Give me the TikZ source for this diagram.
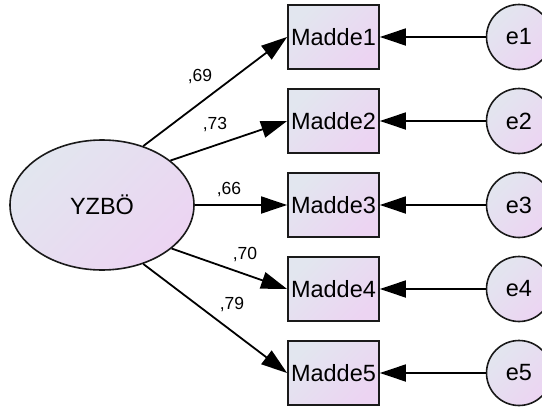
\documentclass[tikz,border=0pt]{standalone}
\usepackage{fontspec}
\setmainfont{Liberation Sans}
\usetikzlibrary{shapes.geometric,arrows.meta}
\definecolor{gA}{HTML}{E2E6EF}
\definecolor{gB}{HTML}{ECD4F2}
\definecolor{edge}{HTML}{1A1A1A}
\tikzset{
  grad/.style={shading=axis, left color=gA, right color=gB, shading angle=45},
  latent/.style={ellipse, draw=edge, line width=1.6pt, grad, minimum width=184pt, minimum height=130pt, inner sep=0pt, font=\fontsize{23.5}{25}\selectfont},
  obs/.style={rectangle, draw=edge, line width=1.8pt, grad, minimum width=91pt, minimum height=64pt, inner sep=0pt, font=\fontsize{23.5}{25}\selectfont},
  err/.style={circle, draw=edge, line width=1.6pt, grad, minimum size=65pt, inner sep=0pt, font=\fontsize{23.5}{25}\selectfont},
  path/.style={line width=1.8pt, draw=black, -{Triangle[length=26pt,width=17pt]}},
  lab/.style={font=\fontsize{17.5}{19}\selectfont, inner sep=0pt}
}
\begin{document}
\begin{tikzpicture}[x=1pt,y=-1pt]
\clip (0,0) rectangle (542,407);
\node[latent] (f) at (102,205) {YZBÖ};
\foreach \i/\y in {1/37,2/121,3/205,4/289,5/373}{
  \node[obs] (m\i) at (333.5,\y) {Madde\i};
  \node[err] (e\i) at (519,\y) {e\i};
  \draw[path] (e\i.west) -- (m\i.east);
}
\draw[path] (f.55) -- (m1.west);
\draw[path] (f.33) -- (m2.west);
\draw[path] (f.0) -- (m3.west);
\draw[path] (f.-32) -- (m4.west);
\draw[path] (f.-55) -- (m5.west);
\node[lab] (l1) at (200,77) {,69};
\node[lab] (l2) at (215,125) {,73};
\node[lab] (l3) at (229,190) {,66};
\node[lab] (l4) at (245,255) {,70};
\node[lab] (l5) at (232,305) {,79};
\end{tikzpicture}
\end{document}
